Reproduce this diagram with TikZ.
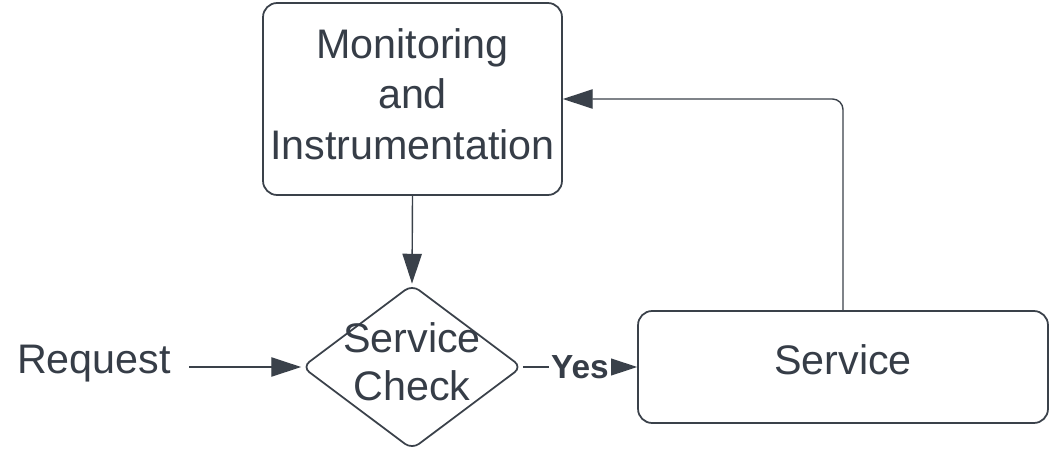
\documentclass[tikz,border=0pt]{standalone}
\usepackage{fontspec}
\setmainfont{Liberation Sans}
\usetikzlibrary{shapes.geometric,arrows.meta}
\definecolor{linegray}{HTML}{3A414A}
\definecolor{textgray}{HTML}{363D47}

\begin{document}
\begin{tikzpicture}[x=0.02cm,y=-0.02cm,
		box/.style={draw=linegray,line width=1pt,rounded corners=8pt,align=center,
			text=textgray,font=\fontsize{23.5}{28.5}\selectfont},
		decision/.style={diamond,draw=linegray,line width=1pt,rounded corners=5pt,
			minimum width=4.4cm,minimum height=3.3cm,inner sep=0pt},
		flow/.style={draw=linegray,line width=0.8pt,
			-{Triangle[length=17pt,width=11pt]}}]
		% Canvas
		\useasboundingbox (0,0) rectangle (1050,450);

		% Boxes
		\node[box,minimum width=5.98cm,minimum height=3.84cm,text depth=5.7pt] (monitor)
			at (412.5,99) {Monitoring\\and\\Instrumentation};
		\node[box,minimum width=8.2cm,minimum height=2.24cm,text height=17pt,text depth=8pt]
			(service) at (843,367) {Service};

		% Decision
		\node[decision] (check) at (412,367) {};
		\node[align=center,text=textgray,font=\fontsize{23.5}{27.5}\selectfont] (checktext)
			at (412,362) {Service\\Check};

		% Input
		\node[text=textgray,font=\fontsize{23.5}{28}\selectfont,outer sep=7pt] (request)
			at (94,364) {Request};

		% Connectors
		\draw[flow] (request.east |- check.west) -- (check.west);
		\draw[flow] (monitor.south) -- (check.north);
		\draw[flow] (check.east) -- node[fill=white,inner sep=1pt,text=textgray,
			font=\fontsize{19}{22}\bfseries] (yes) {Yes} (service.west);
		\draw[flow,rounded corners=6pt] (service.north) |- (monitor.east);
	\end{tikzpicture}
\end{document}
